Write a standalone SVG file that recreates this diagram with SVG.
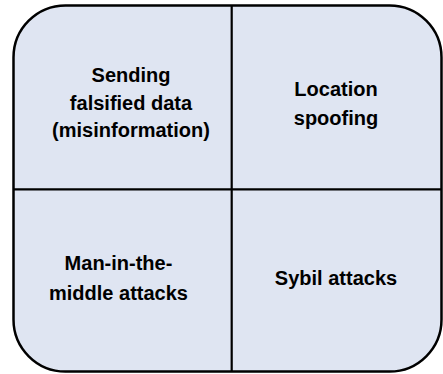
<svg xmlns="http://www.w3.org/2000/svg" width="443" height="374" viewBox="0 0 443 374">
<style>
.box{fill:#dfe5f2;stroke:#000;stroke-width:2.5}
.div{stroke:#000;stroke-width:2.2;fill:none}
.t{font-family:"Liberation Sans",Arial,sans-serif;font-weight:bold;font-size:20px;fill:#000;text-anchor:middle}
</style>
<rect width="443" height="374" fill="#fff"/>
<g id="frame"><rect class="box" x="13.5" y="5.5" width="428" height="366" rx="52" ry="52"/></g>
<g id="connectors">
<line class="div" x1="231.7" y1="5.5" x2="231.7" y2="371.5"/>
<line class="div" x1="13.5" y1="189.3" x2="441.5" y2="189.3"/>
</g>
<g id="q1"><text class="t" x="131" y="82">Sending</text><text class="t" x="131" y="109.5">falsified data</text><text class="t" x="131" y="137">(misinformation)</text></g>
<g id="q2"><text class="t" x="336" y="96">Location</text><text class="t" x="336" y="125">spoofing</text></g>
<g id="q3"><text class="t" x="118.5" y="269.5">Man-in-the-</text><text class="t" x="118.5" y="299.5">middle attacks</text></g>
<g id="q4"><text class="t" x="336" y="285">Sybil attacks</text></g>
</svg>
